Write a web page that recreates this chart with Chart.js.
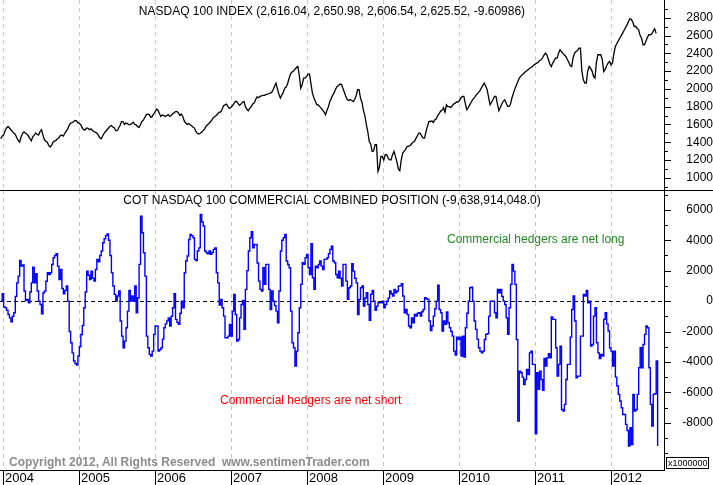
<!DOCTYPE html>
<html><head><meta charset="utf-8">
<script src="https://cdn.jsdelivr.net/npm/chart.js@4.4.1/dist/chart.umd.min.js"></script>
<style>
html,body{margin:0;padding:0;background:#fff;}
#wrap{position:relative;width:713px;height:485px;overflow:hidden;font-family:Arial,"Liberation Sans",sans-serif;background:#fff;}
canvas{position:absolute;left:0;}
.t{position:absolute;font-size:12px;line-height:14px;white-space:nowrap;color:#000;}
</style></head><body>
<div id="wrap">
<canvas id="topc" width="713" height="190" style="top:0"></canvas>
<canvas id="botc" width="713" height="295" style="top:190px"></canvas>
<div class="t" style="left:0;width:664px;text-align:center;top:4px">NASDAQ 100 INDEX (2,616.04, 2,650.98, 2,606.54, 2,625.52, -9.60986)</div>
<div class="t" style="left:0;width:664px;text-align:center;top:193px">COT NASDAQ 100 COMMERCIAL COMBINED POSITION (-9,638,914,048.0)</div>
<div class="t" style="left:447px;top:232px;color:#228b22">Commercial hedgers are net long</div>
<div class="t" style="left:220px;top:393px;color:#ff0000">Commercial hedgers are net short</div>
<div class="t" style="left:9px;top:455px;color:#8c8c8c;font-weight:bold;font-size:12px">Copyright 2012, All Rights Reserved&nbsp;&nbsp;www.sentimenTrader.com</div>
<div class="t" style="left:666px;top:457px;width:43px;height:12px;box-sizing:border-box;border:1px solid #000;font-size:9px;line-height:10px;padding-left:1px;overflow:hidden">x1000000</div>
</div>
<script>
// ---- data ----
const yearTicks = [2004, 2005, 2006, 2007, 2008, 2009, 2010, 2011, 2012];
const ndxTickLabels = [1000, 1200, 1400, 1600, 1800, 2000, 2200, 2400, 2600, 2800];
const cotTickLabels = [-8000, -6000, -4000, -2000, 0, 2000, 4000, 6000];
const seriesStart = 2003.97;          // first observation (decimal year)
const ndxStepDays = 7;                // NASDAQ 100, weekly closes
const cotStepDays = 7;                // COT reported weekly

const ndxValues = [
1440,1470,1480,1530,1560,1577,1560,1540,1521,1500,
1490,1450,1420,1401,1460,1500,1515,1500,1490,1470,
1440,1416,1460,1480,1502,1490,1480,1520,1540,1480,
1427,1410,1400,1360,1345,1370,1400,1416,1420,1440,
1450,1476,1480,1470,1500,1525,1550,1590,1615,1620,
1630,1645,1641,1620,1610,1596,1560,1540,1540,1560,
1555,1540,1550,1530,1520,1510,1502,1480,1450,1439,
1470,1500,1520,1540,1560,1580,1588,1570,1560,1529,
1529,1560,1590,1633,1630,1600,1615,1610,1596,1600,
1610,1625,1600,1595,1575,1566,1600,1633,1650,1680,
1710,1716,1710,1680,1690,1720,1740,1773,1760,1720,
1690,1705,1700,1690,1701,1710,1690,1701,1720,1730,
1745,1746,1730,1700,1716,1690,1640,1615,1600,1610,
1596,1585,1570,1559,1520,1500,1491,1500,1515,1530,
1550,1580,1596,1610,1630,1650,1675,1690,1700,1720,
1738,1738,1770,1810,1820,1829,1800,1780,1791,1810,
1830,1858,1858,1835,1814,1830,1850,1858,1800,1770,
1754,1780,1800,1829,1840,1880,1910,1900,1915,1920,
1926,1926,1935,1940,1945,1952,1960,1990,2030,2065,
2000,1940,1896,1930,1960,2009,2020,2060,2120,2170,
2189,2200,2220,2240,2252,2150,2009,2050,2121,2121,
2140,2166,2166,2060,1952,1900,1860,1821,1821,1800,
1784,1760,1740,1709,1760,1800,1860,1896,1930,1960,
2000,2027,2040,2054,2050,2000,1960,1910,1877,1870,
1880,1870,1858,1880,1920,1990,1990,1896,1850,1760,
1700,1600,1520,1408,1380,1296,1300,1371,1371,1071,
1120,1240,1240,1200,1259,1259,1220,1202,1202,1260,
1296,1240,1180,1100,1079,1200,1278,1300,1320,1352,
1352,1360,1380,1400,1408,1440,1470,1502,1502,1470,
1446,1446,1520,1580,1633,1633,1640,1620,1652,1660,
1700,1720,1750,1760,1790,1738,1821,1800,1800,1791,
1810,1830,1840,1852,1852,1870,1900,1915,1915,1830,
1765,1790,1820,1850,1880,1896,1920,1940,1960,1980,
2010,2040,2065,2030,1990,1900,1821,1850,1880,1915,
1915,1830,1754,1790,1830,1860,1877,1840,1802,1802,
1830,1900,1952,2000,2040,2080,2120,2140,2160,2170,
2190,2200,2215,2230,2240,2250,2270,2280,2290,2300,
2320,2327,2350,2380,2402,2380,2330,2280,2252,2290,
2320,2346,2346,2400,2440,2420,2400,2380,2365,2330,
2300,2260,2252,2350,2402,2420,2430,2459,2459,2200,
2102,2065,2065,2200,2252,2230,2200,2140,2121,2300,
2384,2384,2384,2330,2196,2220,2260,2290,2309,2271,
2290,2400,2477,2510,2540,2570,2600,2627,2660,2690,
2720,2760,2790,2780,2750,2702,2702,2680,2665,2600,
2571,2496,2496,2540,2580,2609,2609,2620,2650,2676,
2625
];

const cotValues = [
0,480,-390,-440,-600,-880,-1100,-1360,-1000,-770,
300,1200,1640,2670,2300,2370,660,40,110,-110,
600,1200,2230,1200,1800,660,0,-220,-830,550,
660,1300,1860,1750,1860,2400,2850,3000,3110,2300,
1420,2080,830,480,700,990,0,-2000,-2740,-3400,
-3940,-4100,-4200,-3610,-3000,-2200,-1600,-440,600,1970,
1700,1420,1970,1500,1310,2080,2740,2580,3000,3290,
3830,4100,4300,4420,4000,3000,1860,990,440,0,
330,660,-1310,-2300,-3070,-2630,-1750,-660,700,0,
330,0,990,-770,220,2410,5580,4490,3180,1640,
-2300,-3070,-3500,-3610,-3290,-2190,-1640,-1640,-3290,-3200,
-3070,-2500,-1750,-1500,-1300,-1100,-1640,-1000,-440,480,
-1200,-1400,-1530,-800,0,-440,1860,2630,2960,4050,
4380,4300,4160,2740,2670,3290,3500,5690,5200,4930,
3290,3180,3110,3290,3070,3200,3400,3500,1860,1200,
-260,110,-440,-990,-2410,-2410,-2300,-1530,-2300,-660,
440,-880,-2630,-2520,-1100,-220,40,-1860,770,2000,
3290,4160,4560,3500,3720,3720,2500,1310,770,660,
2190,1100,2410,2410,770,-550,660,0,-300,-660,
-1420,660,3290,4000,4160,4380,2630,2400,2190,-660,
-2740,-3070,-4270,-3290,-2080,-440,1100,2520,2410,2850,
3070,2190,1750,3770,1530,770,2300,2190,2400,2630,
2300,2080,2740,2740,2850,3110,3400,3600,2630,2520,
1750,1530,1970,1500,990,2410,2410,1310,110,880,
990,2450,1970,1500,1200,-880,110,880,990,-330,
200,550,-220,-1270,440,700,0,-610,-330,-110,
-110,-110,0,-440,-220,0,200,660,480,330,
770,550,660,990,1000,1140,330,-770,-550,-880,
-1640,-1750,-1100,-1420,-880,-990,-800,-770,-990,-700,
-550,220,150,110,-1310,-1930,-1640,-990,-500,0,
1050,-550,-770,-1970,-1310,-1530,-720,-1420,-1750,-2000,
-2300,-3290,-3550,-2370,-2520,-2370,-3610,-2300,-3680,-1750,
-800,0,880,920,0,-1310,-1860,-2500,-3070,-3290,
-3400,-3290,-2520,-2190,-2150,-990,0,0,0,-770,
-1100,770,550,770,300,0,-220,-1100,-2190,-440,
1100,2410,1970,1100,-2520,-7880,-4600,-4710,-5000,-5480,
-5150,-4490,-4820,-3400,-3290,-4160,-4160,-8720,-4710,-5800,
-4600,-5150,-5870,-3770,-4270,-3720,-3460,-3720,-1050,-1200,
-1200,-3070,-4930,-4160,-2960,-7120,-7230,-6790,-5150,-4160,
-4160,-2370,-550,330,-1310,-5040,-4930,-4930,-2300,-2300,
440,330,700,-110,0,-2960,-2850,-990,-440,-2740,
-3400,-3770,-3500,-3610,-1200,-770,-1500,-1970,-3070,-3290,
-4270,-3290,-5000,-5580,-6130,-6570,-7010,-7450,-7450,-8100,
-8500,-9530,-8320,-9420,-6130,-7230,-7120,-6130,-4380,-3070,
-4380,-2850,-2190,-1640,-1750,-4380,-6790,-8210,-6130,-6090,
-3940,-9530
];

// ---- layout constants for axes ----
const xMin = 2004 - 3/76, xMax = xMin + 664/76;
const ndxMin = 862, ndxMax = 3000;
const cotMin = -11100, cotMax = 7300;

const toPoints = (vals, stepDays) => vals.map((v, i) => ({x: seriesStart + i * stepDays / 365.25, y: v}));

Chart.defaults.font.family = 'Arial, "Liberation Sans", sans-serif';
Chart.defaults.font.size = 12;
Chart.defaults.color = '#000';

const noPad = s => { s.paddingTop = 0; s.paddingBottom = 0; s.paddingLeft = 0; s.paddingRight = 0; };

const tickMarks = {
  id: 'tickMarks',
  afterDraw(chart, args, opts) {
    const s = chart.scales.y, ctx = chart.ctx;
    ctx.save();
    ctx.strokeStyle = '#000'; ctx.lineWidth = 1;
    s.ticks.forEach(t => {
      const y = Math.round(s.getPixelForValue(t.value)) + 0.5;
      const len = opts.major.includes(t.value) ? 7 : 4;
      ctx.beginPath(); ctx.moveTo(s.left, y); ctx.lineTo(s.left + len, y); ctx.stroke();
    });
    if (opts.divider) {
      ctx.beginPath(); ctx.moveTo(0, 0.5); ctx.lineTo(chart.width, 0.5); ctx.stroke();
    }
    ctx.restore();
  }
};

const xYears = (showLabels) => ({
  type: 'linear', min: xMin, max: xMax,
  afterBuildTicks: s => { s.ticks = yearTicks.map(v => ({value: v})); },
  afterFit: s => { s.height = showLabels ? 15 : 0; noPad(s); },
  ticks: showLabels
    ? {display: true, align: 'start', labelOffset: 2, padding: -14, maxRotation: 0, minRotation: 0, autoSkip: false, font: {size: 13}, color: '#000', callback: v => String(v)}
    : {display: false},
  grid: {display: true, color: '#c8c8c8', lineWidth: 1, drawTicks: showLabels, tickLength: 15, tickColor: '#000', tickBorderDash: []},
  border: {display: showLabels, color: '#000', width: 1, dash: [4, 4]}
});

new Chart(document.getElementById('topc'), {
  type: 'line',
  data: {datasets: [{data: toPoints(ndxValues, ndxStepDays), borderColor: '#000', borderWidth: 1.3, pointRadius: 0, tension: 0}]},
  options: {
    responsive: false, animation: false, devicePixelRatio: 1,
    layout: {padding: 0},
    plugins: {legend: {display: false}, tooltip: {enabled: false}, tickMarks: {major: ndxTickLabels, divider: false}},
    scales: {
      x: xYears(false),
      y: {
        type: 'linear', position: 'right', min: ndxMin, max: ndxMax,
        afterBuildTicks: s => { const t = []; for (let v = 900; v <= 2900; v += 100) t.push({value: v}); s.ticks = t; },
        afterFit: s => { s.width = 49; noPad(s); },
        ticks: {autoSkip: false, padding: 17, crossAlign: 'far', color: '#000', font: {size: 12},
          callback: v => ndxTickLabels.includes(v) ? String(v) : ''},
        grid: {display: false},
        border: {display: true, color: '#000', width: 1}
      }
    }
  },
  plugins: [tickMarks]
});

new Chart(document.getElementById('botc'), {
  type: 'line',
  data: {datasets: [{data: toPoints(cotValues, cotStepDays), borderColor: '#0000ff', borderWidth: 1.4, pointRadius: 0, stepped: true}]},
  options: {
    responsive: false, animation: false, devicePixelRatio: 1,
    layout: {padding: 0},
    plugins: {legend: {display: false}, tooltip: {enabled: false}, tickMarks: {major: cotTickLabels, divider: true}},
    scales: {
      x: xYears(true),
      y: {
        type: 'linear', position: 'right', min: cotMin, max: cotMax,
        afterBuildTicks: s => { const t = []; for (let v = -10000; v <= 7000; v += 1000) t.push({value: v}); s.ticks = t; },
        afterFit: s => { s.width = 49; noPad(s); },
        ticks: {autoSkip: false, padding: 13, crossAlign: 'far', color: '#000', font: {size: 12},
          callback: v => cotTickLabels.includes(v) ? String(v) : ''},
        grid: {display: true, drawTicks: false, lineWidth: 1,
          color: c => (c.tick && c.tick.value === 0) ? '#000' : 'rgba(0,0,0,0)'},
        border: {display: true, color: '#000', width: 1, dash: [4, 3]}
      }
    }
  },
  plugins: [tickMarks]
});
</script>
</body></html>
